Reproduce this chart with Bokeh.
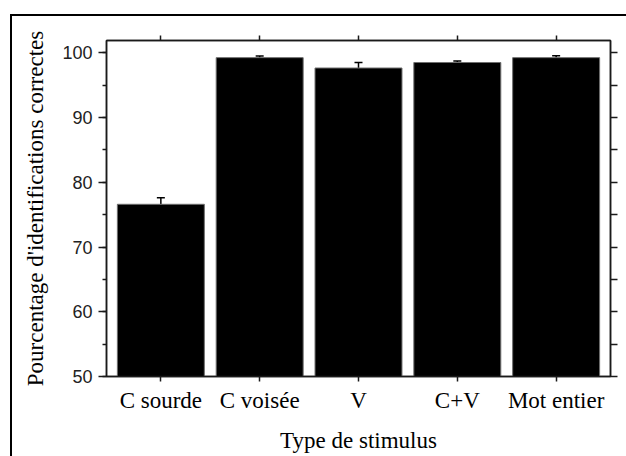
from bokeh.plotting import figure
from bokeh.models import (ColumnDataSource, FactorRange, Range1d, LinearAxis, CategoricalAxis,
                          FixedTicker, Whisker, TeeHead, CustomJSTickFormatter)
from bokeh.embed import file_html
from bokeh.resources import INLINE

categories = ["C sourde", "C voisée", "V", "C+V", "Mot entier"]
means = [76.6, 99.25, 97.65, 98.5, 99.25]
errors = [1.0, 0.25, 0.85, 0.25, 0.3]
y_ticks = [50, 60, 70, 80, 90, 100]
y_minor = [50, 55, 60, 65, 70, 75, 80, 85, 90, 95, 100]

upper = [m + e for m, e in zip(means, errors)]
src = ColumnDataSource(dict(cat=categories, mean=means, upper=upper))

p = figure(width=626, height=456, output_backend="svg", toolbar_location=None,
           x_range=FactorRange(*categories, range_padding=0.02),
           y_range=Range1d(50, 101.9),
           min_border_left=106, min_border_top=40, min_border_right=16, min_border_bottom=80)
p.border_fill_color = None
p.background_fill_color = "white"
p.styles = {
    "background": "linear-gradient(#000,#000) 10px 14px / 2px 100% no-repeat, "
                  "linear-gradient(#000,#000) 10px 14px / 100% 2px no-repeat, white"
}

p.vbar(x="cat", top="mean", bottom=50, width=0.88, source=src,
       fill_color="black", line_color="#6e6e6e", line_width=1)

w = Whisker(base="cat", lower="mean", upper="upper", source=src,
            line_color="black", line_width=1.5,
            upper_head=TeeHead(size=8, line_color="black", line_width=1.5),
            lower_head=None)
p.add_layout(w)

axis_color = "#1a1a1a"
p.xgrid.visible = False
p.ygrid.visible = False
p.outline_line_color = axis_color
p.outline_line_width = 1.5

serif = "Liberation Serif"

# left axis
ya = p.yaxis[0]
ya.ticker = FixedTicker(ticks=y_ticks, minor_ticks=y_minor)
ya.axis_line_color = axis_color
ya.axis_line_width = 1.5
ya.major_tick_line_color = axis_color
ya.major_tick_line_width = 1.5
ya.major_tick_out = 8
ya.major_tick_in = 0
ya.minor_tick_line_color = axis_color
ya.minor_tick_line_width = 1.5
ya.minor_tick_out = 4
ya.minor_tick_in = 0
ya.major_label_text_font = "Liberation Sans"
ya.major_label_text_font_size = "18px"
ya.major_label_text_color = "#222222"
ya.major_label_standoff = 6
ya.axis_label = "Pourcentage d'identifications correctes"
ya.axis_label_text_font = serif
ya.axis_label_text_font_style = "normal"
ya.axis_label_text_font_size = "23px"
ya.axis_label_text_color = "black"
ya.axis_label_standoff = 11

# bottom axis
xa = p.xaxis[0]
xa.axis_line_color = axis_color
xa.axis_line_width = 1.5
xa.major_tick_line_color = axis_color
xa.major_tick_line_width = 1.5
xa.major_tick_out = 5
xa.major_tick_in = 0
xa.major_label_text_font = serif
xa.major_label_text_font_size = "23px"
xa.major_label_text_color = "black"
xa.major_label_standoff = 6
xa.axis_label = "Type de stimulus"
xa.axis_label_text_font = serif
xa.axis_label_text_font_style = "normal"
xa.axis_label_text_font_size = "23px"
xa.axis_label_text_color = "black"
xa.axis_label_standoff = 12

# right axis (ticks only)
ra = LinearAxis(ticker=FixedTicker(ticks=y_minor),
                formatter=CustomJSTickFormatter(code="return '';"))
ra.axis_line_color = axis_color
ra.axis_line_width = 1.5
ra.major_tick_line_color = axis_color
ra.major_tick_line_width = 1.5
ra.major_tick_out = 7
ra.major_tick_in = 0
ra.minor_tick_line_color = None
ra.major_label_standoff = 0
p.add_layout(ra, "right")

# top axis (ticks only)
ta = CategoricalAxis(formatter=CustomJSTickFormatter(code="return '';"))
ta.axis_line_color = axis_color
ta.axis_line_width = 1.5
ta.major_tick_line_color = axis_color
ta.major_tick_line_width = 1.5
ta.major_tick_out = 5
ta.major_tick_in = 0
ta.major_label_standoff = 0
p.add_layout(ta, "above")

open("out.html", "w").write(file_html(p, INLINE))
